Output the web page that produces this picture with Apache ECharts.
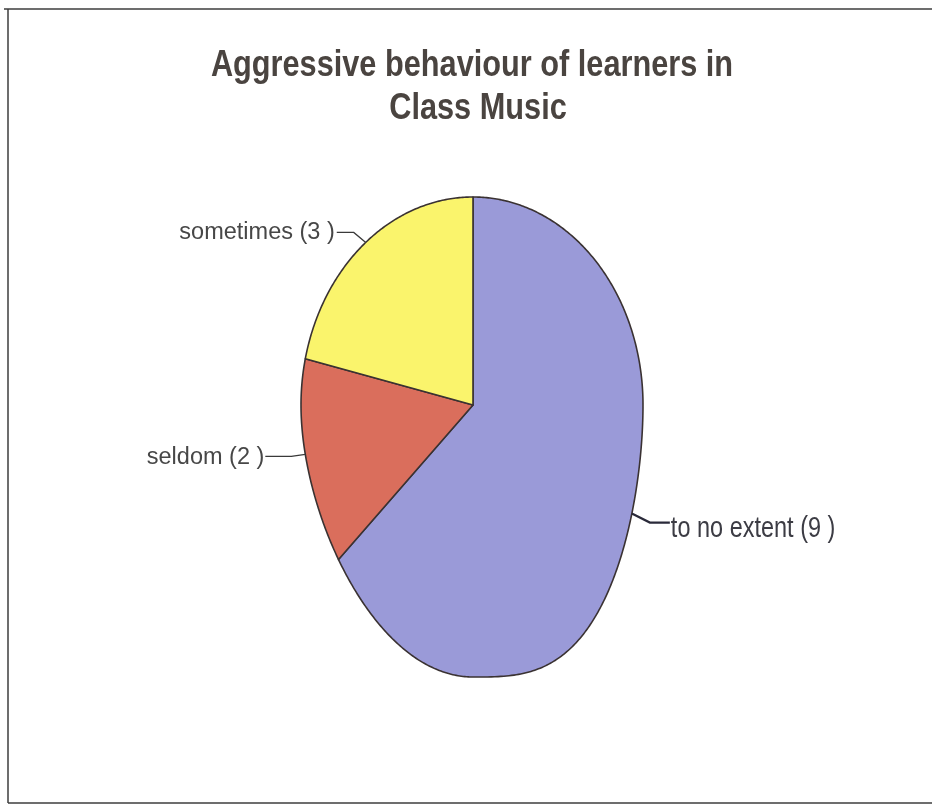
<!DOCTYPE html>
<html>
<head>
<meta charset="utf-8">
<title>Aggressive behaviour of learners in Class Music</title>
<script src="https://cdn.jsdelivr.net/npm/echarts@6/dist/echarts.min.js"></script>
<style>
  html, body { margin: 0; padding: 0; background: #ffffff; }
  #chart { width: 932px; height: 809px; }
</style>
</head>
<body>
<div id="chart"></div>
<script>
// Responses, drawn clockwise from 12 o'clock
const categories = ['to no extent', 'seldom', 'sometimes'];
const counts = [9, 2, 3];
const titleLines = ['Aggressive behaviour of learners in', 'Class Music'];

// Slice fills, in the same order as the categories
const sliceColors = ['#9a9ad8', '#da6e5c', '#faf46c'];

const SANS = "'Liberation Sans', Arial, sans-serif";

// Oval pie geometry (taller than wide, fuller below the centre)
const pie = { cx: 473, cy: 405, rxLeft: 172, rxRight: 170, ryTop: 208, ryBottom: 272 };

function ovalPoint(theta) {
  const s = Math.sin(theta), c = Math.cos(theta);
  let dx, dy;
  if (c >= 0) {
    dx = (s < 0 ? pie.rxLeft : pie.rxRight) * s;
    dy = pie.ryTop * c;
  } else if (s < 0) {
    dx = pie.rxLeft * s;
    dy = (pie.ryTop + (pie.ryBottom - pie.ryTop) * (-c)) * c;
  } else {
    // lower right quadrant bulges outward
    dx = pie.rxRight * Math.pow(s, 0.65);
    dy = (pie.ryTop + (pie.ryBottom - pie.ryTop) * Math.sqrt(-c)) * c;
  }
  return [pie.cx + dx, pie.cy - dy];
}

const total = counts.reduce((a, b) => a + b, 0);
const startFrac = counts.map((v, i) => counts.slice(0, i).reduce((a, b) => a + b, 0) / total);

// Leader line from the slice edge out to its label
function leader(anchor, side) {
  if (side === 'right') {
    const e = [anchor[0] + 18, anchor[1] + 9];
    const end = [anchor[0] + 38, anchor[1] + 9];
    return { pts: [anchor, e, end], text: [end[0] + 1, end[1] + 6], align: 'left' };
  }
  if (side === 'upper-left') {
    const e = [anchor[0] - 12, anchor[1] - 10];
    const end = [anchor[0] - 29, anchor[1] - 10];
    return { pts: [anchor, e, end], text: [end[0] - 2, end[1], 0], align: 'right' };
  }
  const e = [anchor[0] - 14, anchor[1] + 2];
  const end = [anchor[0] - 40, anchor[1] + 2];
  return { pts: [anchor, e, end], text: [end[0] - 1, end[1] + 1], align: 'right' };
}

function renderItem(params, api) {
  const i = params.dataIndex;
  const value = api.value(0);
  const a0 = startFrac[i] * Math.PI * 2;
  const a1 = a0 + value / total * Math.PI * 2;
  const steps = Math.max(8, Math.ceil((a1 - a0) / 0.01));
  const points = [[pie.cx, pie.cy]];
  for (let k = 0; k <= steps; k++) {
    points.push(ovalPoint(a0 + (a1 - a0) * k / steps));
  }
  const mid = (a0 + a1) / 2;
  const anchor = ovalPoint(mid);
  const side = Math.sin(mid) > 0 ? 'right' : (Math.cos(mid) > 0 ? 'upper-left' : 'lower-left');
  const ld = leader(anchor, side);
  const isRight = side === 'right';
  return {
    type: 'group',
    children: [
      {
        type: 'polygon',
        shape: { points: points },
        style: { fill: sliceColors[i], stroke: '#3a3232', lineWidth: 1.6, lineJoin: 'round' }
      },
      {
        type: 'polyline',
        shape: { points: ld.pts },
        style: { fill: null, stroke: isRight ? '#2a2a3a' : '#3a3a3a', lineWidth: isRight ? 2.2 : 1.3 }
      },
      {
        type: 'text',
        x: ld.text[0],
        y: ld.text[1],
        scaleX: isRight ? 0.81 : 1,
        style: {
          text: categories[i] + ' (' + value + ' )',
          x: 0,
          y: 0,
          align: ld.align,
          verticalAlign: 'middle',
          fill: isRight ? '#3c3c44' : '#474747',
          font: isRight ? ('29px ' + SANS) : ('23.5px ' + SANS)
        }
      }
    ]
  };
}

const chart = echarts.init(document.getElementById('chart'), null, { renderer: 'canvas' });
chart.setOption({
  backgroundColor: '#ffffff',
  animation: false,
  graphic: [
    { type: 'line', shape: { x1: 4, y1: 9, x2: 932, y2: 9 }, style: { stroke: '#3c3c3c', lineWidth: 1.5 } },
    { type: 'line', shape: { x1: 8, y1: 9, x2: 8, y2: 803 }, style: { stroke: '#3c3c3c', lineWidth: 1.5 } },
    { type: 'line', shape: { x1: 8, y1: 803, x2: 932, y2: 803 }, style: { stroke: '#3c3c3c', lineWidth: 1.5 } },
    {
      type: 'text', x: 472, y: 66, scaleX: 0.83,
      style: { text: titleLines[0], align: 'center', verticalAlign: 'middle', font: 'bold 37px ' + SANS, fill: '#4a4440' }
    },
    {
      type: 'text', x: 478, y: 109, scaleX: 0.83,
      style: { text: titleLines[1], align: 'center', verticalAlign: 'middle', font: 'bold 37px ' + SANS, fill: '#4a4440' }
    }
  ],
  series: [{
    type: 'custom',
    coordinateSystem: 'none',
    renderItem: renderItem,
    data: counts.map((v, i) => ({ name: categories[i], value: [v] }))
  }]
});
</script>
</body>
</html>
